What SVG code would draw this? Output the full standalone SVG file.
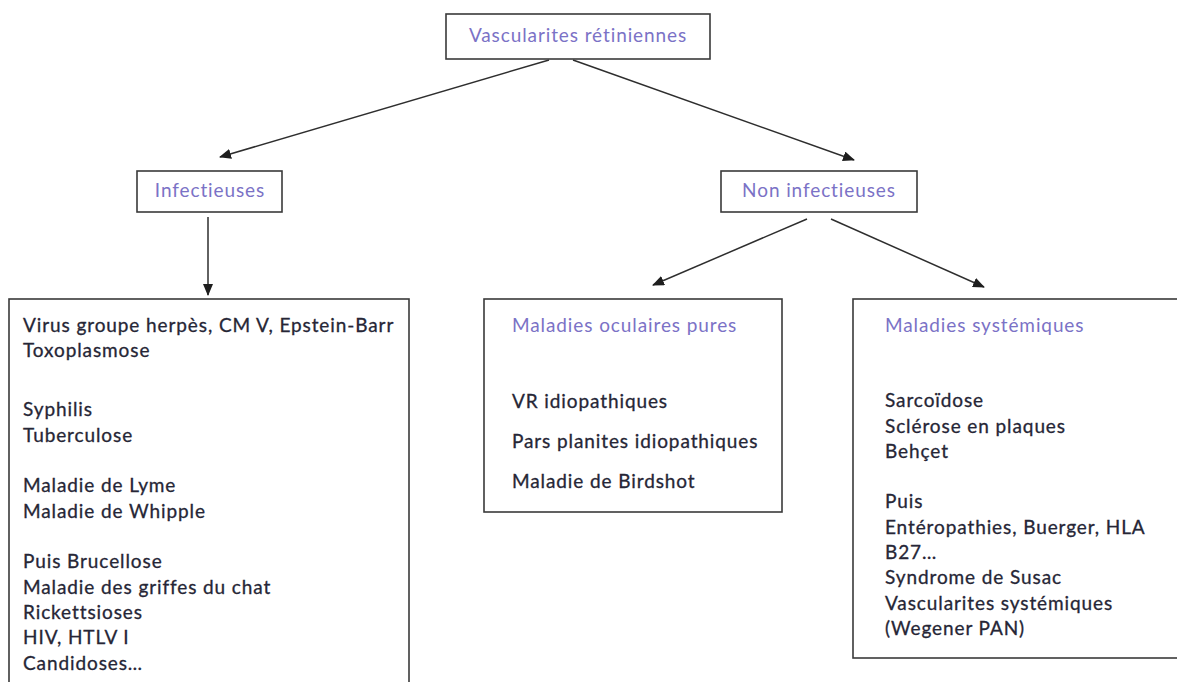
<svg xmlns="http://www.w3.org/2000/svg" width="1177" height="682" viewBox="0 0 1177 682">
  <style>
    .box { fill: #ffffff; stroke: #3a3a3a; stroke-width: 1.6; }
    .title { font-family: Lato, "Liberation Sans", sans-serif; font-size: 19px; letter-spacing: 0.9px; fill: #7b72c6; }
    .item { font-family: Lato, "Liberation Sans", sans-serif; font-size: 19px; letter-spacing: 0.9px; fill: #262636; stroke: #262636; stroke-width: 0.3px; }
    .link { stroke: #2e2e2e; stroke-width: 1.5; fill: none; marker-end: url(#arrow); }
  </style>
  <defs>
    <marker id="arrow" viewBox="0 0 12 10" refX="11" refY="5" markerWidth="12" markerHeight="10" markerUnits="userSpaceOnUse" orient="auto">
      <path d="M0,0 L12,5 L0,10 Z" fill="#1e1e1e"/>
    </marker>
  </defs>
  <rect width="1177" height="682" fill="#ffffff"/>

  <!-- connectors -->
  <g id="connectors">
    <line class="link" x1="549" y1="60" x2="220" y2="157"/>
    <line class="link" x1="573" y1="60" x2="854" y2="160"/>
    <line class="link" x1="208" y1="217" x2="208" y2="295"/>
    <line class="link" x1="807" y1="219" x2="653" y2="285"/>
    <line class="link" x1="831" y1="219" x2="984" y2="287"/>
  </g>

  <g id="root">
    <rect class="box" x="446" y="14" width="264" height="45"/>
    <text class="title" x="578" y="42" text-anchor="middle">Vascularites rétiniennes</text>
  </g>

  <g id="infectieuses">
    <rect class="box" x="137" y="171" width="145" height="41"/>
    <text class="title" x="210" y="197" text-anchor="middle">Infectieuses</text>
  </g>

  <g id="non-infectieuses">
    <rect class="box" x="721" y="171" width="196" height="41"/>
    <text class="title" x="819" y="197" text-anchor="middle">Non infectieuses</text>
  </g>

  <g id="liste-infectieuses">
    <rect class="box" x="9" y="299" width="400" height="400"/>
    <text class="item" x="23" y="332">Virus groupe herpès, CM V, Epstein-Barr</text>
    <text class="item" x="23" y="357">Toxoplasmose</text>
    <text class="item" x="23" y="416">Syphilis</text>
    <text class="item" x="23" y="442">Tuberculose</text>
    <text class="item" x="23" y="492">Maladie de Lyme</text>
    <text class="item" x="23" y="518">Maladie de Whipple</text>
    <text class="item" x="23" y="568">Puis Brucellose</text>
    <text class="item" x="23" y="594">Maladie des griffes du chat</text>
    <text class="item" x="23" y="619">Rickettsioses</text>
    <text class="item" x="23" y="644">HIV, HTLV I</text>
    <text class="item" x="23" y="670">Candidoses…</text>
  </g>

  <g id="oculaires-pures">
    <rect class="box" x="484" y="299" width="298" height="213"/>
    <text class="title" x="512" y="332">Maladies oculaires pures</text>
    <text class="item" x="512" y="408">VR idiopathiques</text>
    <text class="item" x="512" y="448">Pars planites idiopathiques</text>
    <text class="item" x="512" y="488">Maladie de Birdshot</text>
  </g>

  <g id="systemiques">
    <rect class="box" x="853" y="299" width="340" height="359"/>
    <text class="title" x="885" y="332">Maladies systémiques</text>
    <text class="item" x="885" y="407">Sarcoïdose</text>
    <text class="item" x="885" y="433">Sclérose en plaques</text>
    <text class="item" x="885" y="458">Behçet</text>
    <text class="item" x="885" y="508">Puis</text>
    <text class="item" x="885" y="534">Entéropathies, Buerger, HLA</text>
    <text class="item" x="885" y="559">B27…</text>
    <text class="item" x="885" y="584">Syndrome de Susac</text>
    <text class="item" x="885" y="610">Vascularites systémiques</text>
    <text class="item" x="885" y="635">(Wegener PAN)</text>
  </g>
</svg>
